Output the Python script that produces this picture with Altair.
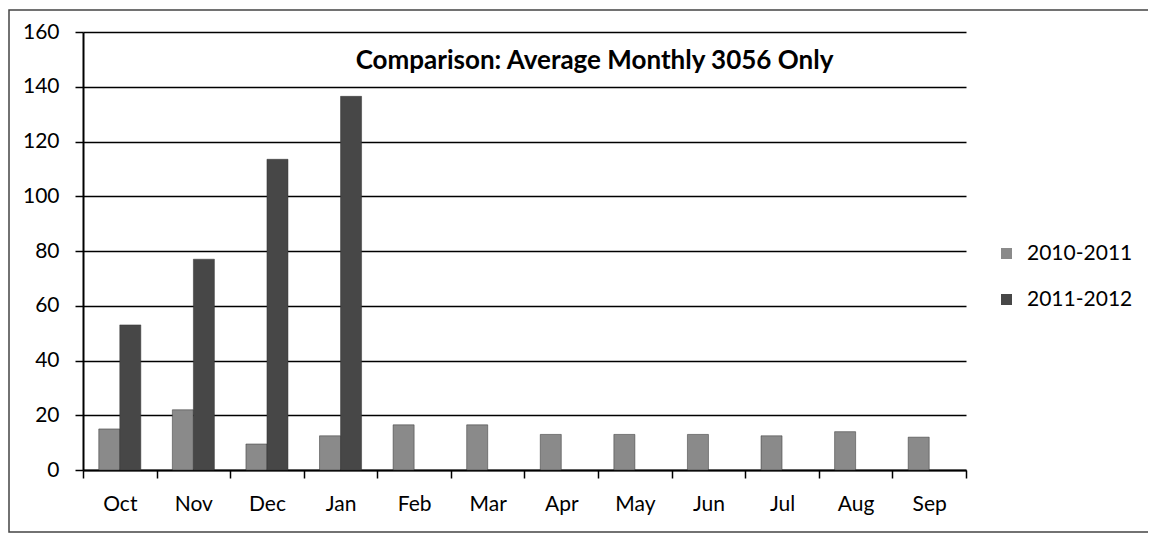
import altair as alt
import pandas as pd

months = ["Oct", "Nov", "Dec", "Jan", "Feb", "Mar", "Apr", "May", "Jun", "Jul", "Aug", "Sep"]
series_names = ["2010-2011", "2011-2012"]
s2010 = [15, 22, 9.5, 12.5, 16.5, 16.5, 13, 13, 13, 12.5, 14, 12]
s2011 = [53, 77, 113.5, 136.5, None, None, None, None, None, None, None, None]
y_ticks = [0, 20, 40, 60, 80, 100, 120, 140, 160]
title_text = "Comparison: Average Monthly 3056 Only"

rows = []
for m, a, b in zip(months, s2010, s2011):
    rows.append({"month": m, "season": series_names[0], "value": a})
    if b is not None:
        rows.append({"month": m, "season": series_names[1], "value": b})
df = pd.DataFrame(rows)

FONT = "Lato"

bars = alt.Chart(df).mark_bar(stroke="#333333", strokeWidth=0.5).encode(
    x=alt.X("month:N", sort=months,
            scale=alt.Scale(paddingInner=0, paddingOuter=0),
            axis=alt.Axis(title=None, labelAngle=0, tickBand="extent",
                          domainColor="black", domainWidth=2,
                          tickColor="black", tickSize=8, tickWidth=1.5,
                          labelFontSize=21, labelColor="black", labelFont=FONT,
                          labelPadding=15, grid=False)),
    xOffset=alt.XOffset("season:N", sort=series_names,
                        scale=alt.Scale(paddingInner=0, paddingOuter=0.75)),
    y=alt.Y("value:Q",
            scale=alt.Scale(domain=[0, 160], nice=False),
            axis=alt.Axis(title=None, values=y_ticks, grid=True,
                          gridColor="black", gridWidth=1.4, gridOpacity=1,
                          domainColor="black", domainWidth=2,
                          tickColor="black", tickSize=8, tickWidth=1.5,
                          labelFontSize=21, labelColor="black", labelFont=FONT,
                          labelPadding=16)),
    color=alt.Color("season:N", sort=series_names,
                    scale=alt.Scale(domain=series_names, range=["#8a8a8a", "#474747"]),
                    legend=alt.Legend(title=None, orient="none", legendX=913, legendY=211,
                                      symbolType="square", symbolSize=121,
                                      symbolStrokeWidth=0, labelFontSize=21,
                                      labelFont=FONT, labelColor="black",
                                      labelOffset=10, rowPadding=24)),
)

frame = alt.Chart(pd.DataFrame({"f": [0]})).mark_rect(
    fill=None, stroke="#444444", strokeWidth=1.5
).encode(
    x=alt.value(-74), x2=alt.value(1100), y=alt.value(-22), y2=alt.value(500)
)

chart = alt.layer(bars, frame).properties(
    width=883, height=438,
    autosize=alt.AutoSizeParams(type="none"),
    padding={"left": 75, "top": 24, "right": 182, "bottom": 64},
    title=alt.TitleParams(title_text, font=FONT, fontSize=26, fontWeight="bold",
                          color="black", anchor="middle", dx=70, dy=65, offset=0),
).configure_view(stroke=None)

chart.save("out.html", embed_options={"renderer": "svg", "actions": False})
